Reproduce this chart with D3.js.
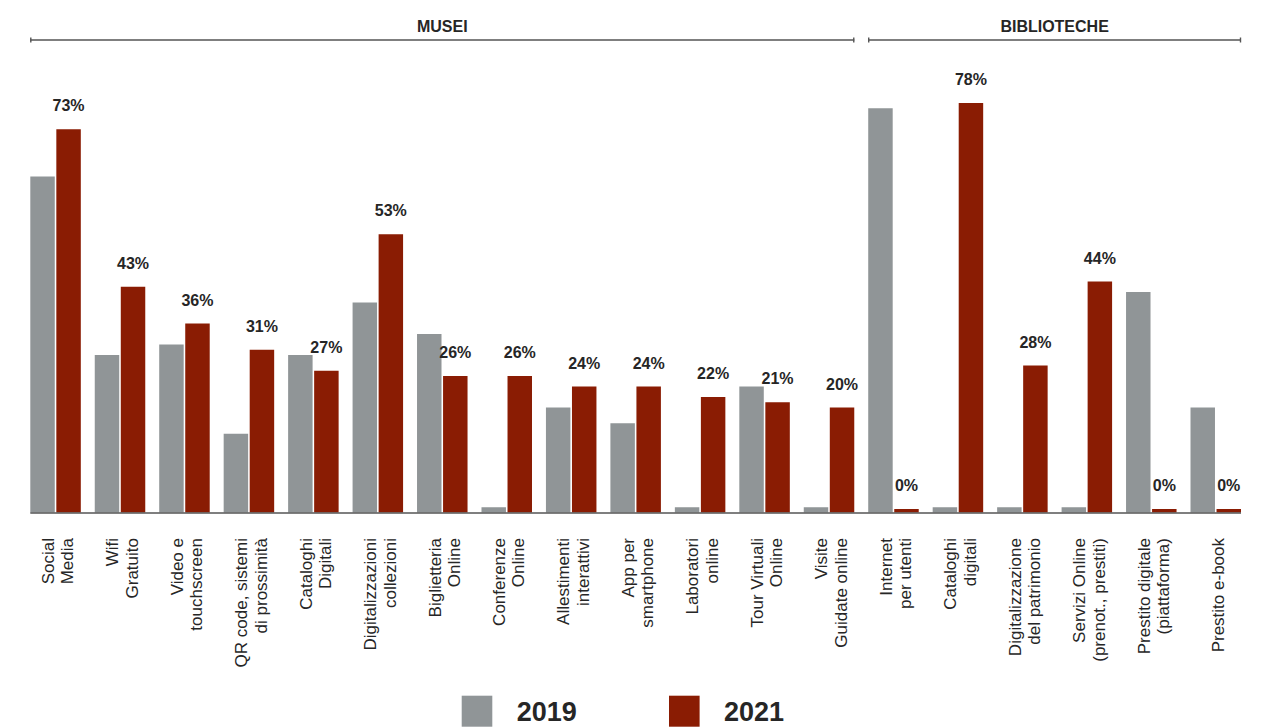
<!DOCTYPE html>
<html>
<head>
<meta charset="utf-8">
<script src="https://cdn.jsdelivr.net/npm/d3@7"></script>
<style>
  html, body { margin: 0; padding: 0; background: #fff; }
  svg { display: block; font-family: "Liberation Sans", Arial, sans-serif; }
</style>
</head>
<body>
<svg id="chart" width="1275" height="728"></svg>
<script>
// Category labels (line breaks marked with "|")
const categories = [
  "Social|Media", "Wifi|Gratuito", "Video e|touchscreen", "QR code, sistemi|di prossimità",
  "Cataloghi|Digitali", "Digitalizzazioni|collezioni", "Biglietteria|Online", "Conferenze|Online",
  "Allestimenti|interattivi", "App per|smartphone", "Laboratori|online", "Tour Virtuali|Online",
  "Visite|Guidate online",
  "Internet|per utenti", "Cataloghi|digitali", "Digitalizzazione|del patrimonio",
  "Servizi Online|(prenot., prestiti)", "Prestito digitale|(piattaforma)", "Prestito e-book"
];

// Share of institutions (%)
const values2019 = [64, 30, 32, 15, 30, 40, 34, 1, 20, 17, 1, 24, 1, 77, 1, 1, 1, 42, 20];
const values2021 = [73, 43, 36, 31, 27, 53, 26, 26, 24, 24, 22, 21, 20, 0, 78, 28, 44, 0, 0];

const years = ["2019", "2021"];
const yearColors = ["#909597", "#8a1c03"];

// Section groupings: [title, first index, last index]
const sectionTitles = ["MUSEI", "BIBLIOTECHE"];
const sectionStart = [0, 13];
const sectionEnd = [12, 18];

const svg = d3.select("#chart");
const baseY = 512.5;

const x0 = d3.scaleBand()
  .domain(d3.range(categories.length))
  .range([30.3, 1241])
  .paddingInner(0.2165)
  .paddingOuter(0);

const x1 = d3.scaleBand()
  .domain(years)
  .range([0, x0.bandwidth()])
  .paddingInner(0.06);

const y = d3.scaleLinear().domain([0, 100]).range([baseY, baseY - 525]);

const color = d3.scaleOrdinal().domain(years).range(yearColors);

const rows = categories.map((c, i) => ({
  i, label: c,
  vals: [ { year: "2019", v: values2019[i] }, { year: "2021", v: values2021[i] } ]
}));

const minStub = 3.5;
const groups = svg.append("g").selectAll("g")
  .data(rows).join("g")
  .attr("transform", d => `translate(${x0(d.i)},0)`);

groups.selectAll("rect")
  .data(d => d.vals).join("rect")
  .attr("x", d => x1(d.year))
  .attr("width", x1.bandwidth())
  .attr("y", d => Math.min(y(d.v), baseY - minStub))
  .attr("height", d => Math.max(baseY - y(d.v), minStub))
  .attr("fill", d => color(d.year));

// value labels on 2021 bars
groups.append("text")
  .attr("x", x1("2021") + x1.bandwidth() / 2)
  .attr("y", d => Math.min(y(d.vals[1].v), baseY - minStub) - 18)
  .attr("text-anchor", "middle")
  .attr("font-weight", "bold")
  .attr("font-size", 16)
  .attr("fill", "#262626")
  .text(d => d.vals[1].v + "%");

// baseline
svg.append("line")
  .attr("x1", x0.range()[0]).attr("x2", x0.range()[1])
  .attr("y1", baseY + 0.5).attr("y2", baseY + 0.5)
  .attr("stroke", "#555").attr("stroke-width", 1.5);

// rotated category labels
const lineGap = 19.5;
rows.forEach(r => {
  const lines = r.label.split("|");
  const cx = x0(r.i) + x0.bandwidth() / 2;
  const t = svg.append("text")
    .attr("transform", `translate(${cx + 8},538) rotate(-90)`)
    .attr("text-anchor", "end")
    .attr("font-size", 17)
    .attr("fill", "#262626");
  lines.forEach((ln, k) => {
    t.append("tspan")
      .attr("x", 0)
      .attr("y", (k - (lines.length - 1) / 2) * lineGap)
      .text(ln);
  });
});

// section headers with bracket lines
sectionTitles.forEach((title, s) => {
  const xa = x0(sectionStart[s]);
  const xb = x0(sectionEnd[s]) + x0.bandwidth();
  const g = svg.append("g").attr("stroke", "#555").attr("stroke-width", 1.4);
  g.append("line").attr("x1", xa).attr("x2", xb).attr("y1", 40).attr("y2", 40);
  g.append("line").attr("x1", xa + 0.5).attr("x2", xa + 0.5).attr("y1", 37.5).attr("y2", 42.5);
  g.append("line").attr("x1", xb - 0.5).attr("x2", xb - 0.5).attr("y1", 37.5).attr("y2", 42.5);
  svg.append("text")
    .attr("x", (xa + xb) / 2).attr("y", 32)
    .attr("text-anchor", "middle")
    .attr("font-weight", "bold")
    .attr("font-size", 16)
    .attr("fill", "#262626")
    .text(title);
});

// legend
const legendX = [461.7, 669];
years.forEach((yr, k) => {
  svg.append("rect")
    .attr("x", legendX[k]).attr("y", 695.7)
    .attr("width", 30.6).attr("height", 31)
    .attr("fill", color(yr));
  svg.append("text")
    .attr("x", legendX[k] + 55).attr("y", 721)
    .attr("font-weight", "bold")
    .attr("font-size", 27)
    .attr("fill", "#262626")
    .text(yr);
});
</script>
</body>
</html>
